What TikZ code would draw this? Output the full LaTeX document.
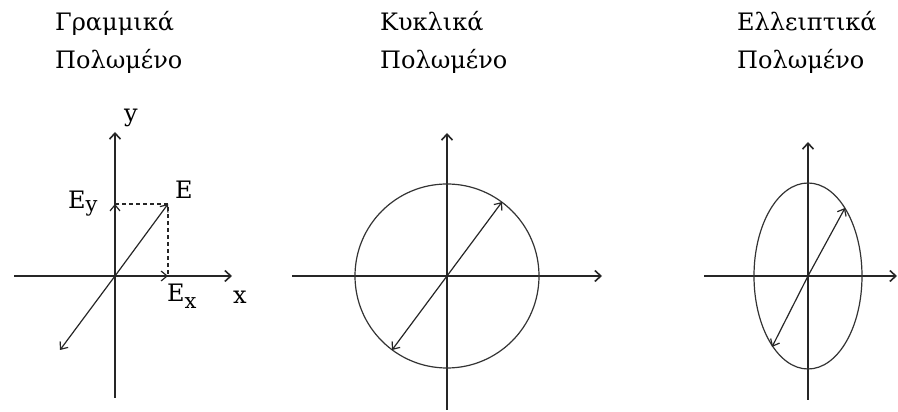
\documentclass[tikz,border=0pt]{standalone}
\usepackage{fontspec}
\setmainfont{DejaVu Serif}
\newfontfamily\labelfont{DejaVu Serif}
\usetikzlibrary{arrows.meta,positioning}

\begin{document}
\begin{tikzpicture}[
    x=1pt, y=1pt,
    axis/.style={line width=1.6pt, black!85, -{Straight Barb[length=6pt, width=11pt]}},
    vec/.style={line width=1.2pt, black!85, -{Straight Barb[length=6pt, width=10pt]}},
    proj/.style={line width=1.2pt, black!85, dash pattern=on 4pt off 3pt},
    orbit/.style={line width=1.2pt, black!80},
    title/.style={anchor=base west, inner sep=0pt, font=\fontsize{24}{24}\selectfont},
    lbl/.style={inner sep=0pt, font=\labelfont\fontsize{24}{24}\selectfont},
]
\useasboundingbox (0,0) rectangle (898,412);
% Titles
\node[title] (lin1) at (55,381) {Γραμμικά};
\node[title] (lin2) at (55,343) {Πολωμένο};
\node[title] (circ1) at (380,381) {Κυκλικά};
\node[title] (circ2) at (380,343) {Πολωμένο};
\node[title] (ell1) at (737,381) {Ελλειπτικά};
\node[title] (ell2) at (737,343) {Πολωμένο};
% Linear polarisation
\coordinate (o1) at (115,136);
\coordinate (y1b) at (115,14);
\coordinate (y1t) at (115,280);
\coordinate (x1l) at (14,136);
\coordinate (x1r) at (232,136);
\coordinate (e1) at (168,208);
\coordinate (ey) at (115,208);
\coordinate (ex) at (168,136);
\coordinate (e1b) at (60,62);
\draw[axis] (y1b) -- (y1t);
\draw[axis] (x1l) -- (x1r);
\draw[proj] (ey) -- (e1) -- (ex);
\draw[vec] (o1) -- (e1);
\draw[vec] (o1) -- (e1b);
\draw[vec] (o1) -- (ey);
\draw[vec] (o1) -- (ex);
\node[lbl] (ylab) at (131,294) {y};
\node[lbl] (xlab) at (240,115) {x};
\node[lbl] (elab) at (184,222) {E};
\node[lbl, anchor=base west] (eylab) at (68,203) {E\raisebox{-3pt}{\fontsize{21}{21}\selectfont y}};
\node[lbl, anchor=base west] (exlab) at (167,110) {E\raisebox{-7pt}{\fontsize{21}{21}\selectfont x}};
% Circular polarisation
\coordinate (o2) at (447,136);
\coordinate (y2b) at (447,2);
\coordinate (y2t) at (447,279);
\coordinate (x2l) at (292,136);
\coordinate (x2r) at (602,136);
\coordinate (e2a) at (502,210);
\coordinate (e2b) at (392,62);
\draw[axis] (y2b) -- (y2t);
\draw[axis] (x2l) -- (x2r);
\draw[orbit] (o2) circle[radius=92];
\draw[vec] (o2) -- (e2a);
\draw[vec] (o2) -- (e2b);
% Elliptical polarisation
\coordinate (o3) at (808,136);
\coordinate (y3b) at (808,12);
\coordinate (y3t) at (808,270);
\coordinate (x3l) at (704,136);
\coordinate (x3r) at (897,136);
\coordinate (e3a) at (845,204);
\coordinate (e3b) at (772,65);
\draw[axis] (y3b) -- (y3t);
\draw[axis] (x3l) -- (x3r);
\draw[orbit] (o3) ellipse[x radius=54, y radius=93];
\draw[vec] (o3) -- (e3a);
\draw[vec] (o3) -- (e3b);
\end{tikzpicture}
\end{document}
